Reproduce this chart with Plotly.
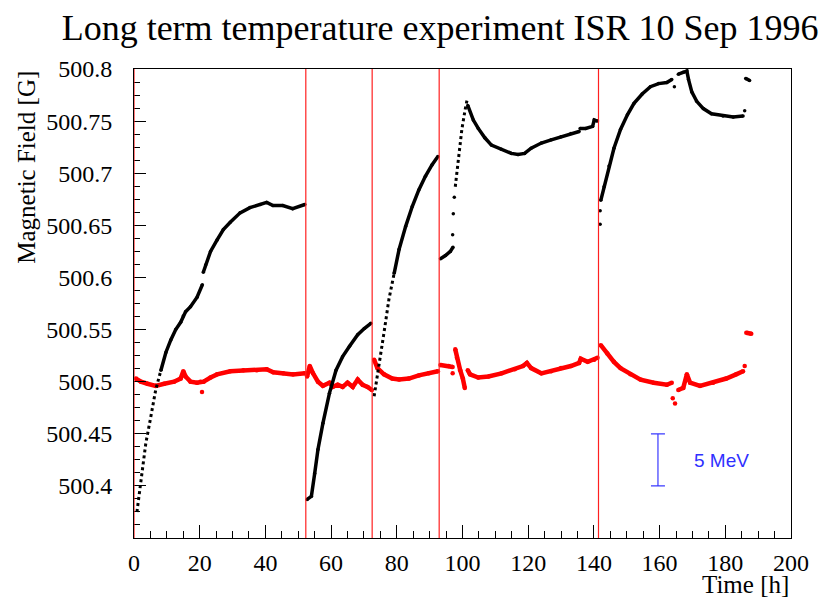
import plotly.graph_objects as go

# ---- ISR long-term temperature run, 10 Sep 1996 ----
# Each run is stored separately; runs are joined with None so the
# traces break between them.

# Magnetic field (black) per run: time [h], field [G]
b_run1_rise_t = [0.9, 2.1, 3.6, 5.1, 6.6]
b_run1_rise_v = [500.375, 500.403, 500.441, 500.466, 500.492]
b_run1_t = [8.2, 9.7, 11.2, 12.7, 14.2, 15.0, 15.7, 17.2, 19.2, 20.8]
b_run1_v = [500.511, 500.528, 500.540, 500.550, 500.557, 500.563, 500.567, 500.572, 500.581,
            500.593]
b_run1b_t = [21.1, 21.8, 23.3, 25.3, 27.2, 29.3, 32.3, 35.3, 38.4, 40.4, 42.3, 45.3, 48.3, 52.0]
b_run1b_v = [500.605, 500.612, 500.625, 500.636, 500.646, 500.653, 500.662, 500.667, 500.670,
             500.672, 500.669, 500.669, 500.666, 500.670]
b_run2_t = [52.7, 54.0, 55.0, 56.0, 57.5, 59.5, 61.5, 63.5, 65.6, 68.1, 70.1, 72.1]
b_run2_v = [500.387, 500.390, 500.412, 500.435, 500.460, 500.489, 500.511, 500.524, 500.534,
            500.545, 500.551, 500.556]
b_run3_rise_t = [73.1, 74.6, 76.1, 77.6]
b_run3_rise_v = [500.486, 500.515, 500.547, 500.579]
b_run3_t = [79.2, 80.7, 82.7, 84.7, 86.7, 88.7, 90.7, 92.5]
b_run3_v = [500.604, 500.627, 500.649, 500.668, 500.684, 500.697, 500.708, 500.716]
b_run4a_t = [93.3, 94.8, 96.3, 97.1]
b_run4a_v = [500.618, 500.621, 500.625, 500.629]
b_run4_rise_t = [97.8, 98.8, 99.8, 100.8, 101.5]
b_run4_rise_v = [500.687, 500.716, 500.742, 500.761, 500.772]
b_run4c_t = [101.6, 103.3, 104.8, 106.8, 108.8, 111.8, 114.9, 116.9, 118.9, 120.9, 124.0,
             127.0, 130.0, 133.0, 135.5]
b_run4c_v = [500.765, 500.751, 500.743, 500.734, 500.727, 500.723, 500.719, 500.718, 500.719,
             500.724, 500.729, 500.732, 500.735, 500.738, 500.740]
b_run4d_t = [135.8, 137.5, 139.6, 140.1, 141.1]
b_run4d_v = [500.743, 500.743, 500.745, 500.751, 500.750]
b_run5a_t = [142.1, 143.1, 144.6, 146.1, 148.1, 150.2, 152.2, 154.7, 157.2, 159.7, 162.2, 163.7]
b_run5a_v = [500.674, 500.687, 500.707, 500.724, 500.742, 500.756, 500.767, 500.776, 500.783,
             500.786, 500.787, 500.790]
b_run5b_t = [165.7, 167.2, 168.3, 168.8, 169.8, 171.3, 173.3, 175.8, 179.3, 182.4, 185.4]
b_run5b_v = [500.795, 500.797, 500.798, 500.790, 500.778, 500.769, 500.762, 500.757, 500.755,
             500.754, 500.755]
b_run5c_t = [186.2, 187.4]
b_run5c_v = [500.791, 500.789]
# single readings
b_single_t = [97.0, 97.2, 97.5, 141.9, 141.9, 164.5, 185.9]
b_single_v = [500.641, 500.661, 500.677, 500.651, 500.664, 500.783, 500.760]

# Reference probe (red) per run
r_run1_t = [0.6, 2.1, 4.1, 6.6, 9.2, 12.2, 14.2, 15.0, 15.7, 17.2, 19.2, 20.2, 21.2, 23.3, 25.3,
            29.3, 33.3, 37.4, 40.4, 42.4, 45.4, 48.4, 52.0]
r_run1_v = [500.503, 500.500, 500.498, 500.496, 500.498, 500.500, 500.503, 500.510, 500.505,
            500.500, 500.499, 500.500, 500.500, 500.504, 500.507, 500.510, 500.511, 500.511,
            500.512, 500.509, 500.508, 500.507, 500.508]
r_run2_t = [52.7, 53.5, 54.5, 56.0, 57.5, 59.5, 60.5, 62.0, 63.5, 65.0, 66.6, 68.1, 69.6, 71.1, 72.4]
r_run2_v = [500.505, 500.515, 500.508, 500.500, 500.496, 500.499, 500.495, 500.497, 500.495,
            500.499, 500.495, 500.502, 500.497, 500.495, 500.492]
r_run3_t = [73.1, 74.1, 76.1, 78.6, 80.7, 83.7, 86.7, 89.7, 92.5]
r_run3_v = [500.521, 500.513, 500.507, 500.503, 500.502, 500.503, 500.506, 500.508, 500.510]
r_run4a_t = [93.3, 95.8, 97.0]
r_run4a_v = [500.516, 500.515, 500.514]
r_run4b_t = [97.8, 98.3, 99.3, 100.1, 100.7]
r_run4b_v = [500.531, 500.523, 500.511, 500.503, 500.494]
r_run4c_t = [101.6, 102.3, 104.8, 107.9, 111.9, 115.9, 118.4, 119.6, 120.9, 124.0, 127.0, 130.0,
             133.0, 135.5, 136.0, 138.1, 140.1, 141.1]
r_run4c_v = [500.511, 500.507, 500.504, 500.505, 500.508, 500.512, 500.515, 500.518, 500.513,
             500.508, 500.510, 500.513, 500.515, 500.518, 500.522, 500.519, 500.521, 500.523]
r_run5a_t = [142.1, 144.1, 146.1, 148.1, 151.1, 154.2, 158.2, 162.2, 163.7]
r_run5a_v = [500.535, 500.527, 500.519, 500.513, 500.507, 500.502, 500.499, 500.497, 500.499]
r_run5b_t = [165.7, 167.2, 168.3, 169.3, 172.3, 176.3, 180.3, 183.3, 185.4]
r_run5b_v = [500.492, 500.494, 500.507, 500.499, 500.496, 500.499, 500.503, 500.507, 500.510]
r_run5c_t = [186.4, 187.9]
r_run5c_v = [500.547, 500.546]
r_single_t = [20.7, 97.0, 164.0, 164.7, 185.9]
r_single_v = [500.490, 500.508, 500.484, 500.479, 500.515]

# start times of the runs (magnet restarts)
run_starts = [0, 52.3, 72.5, 92.9, 141.4]

# energy scale bar: 5 MeV
scale_t = [159.5]
scale_centre = [500.425]
scale_half = [0.025]

x_ticks = [0, 20, 40, 60, 80, 100, 120, 140, 160, 180, 200]
y_ticks = [500.4, 500.45, 500.5, 500.55, 500.6, 500.65, 500.7, 500.75, 500.8]
y_tick_text = ["500.4", "500.45", "500.5", "500.55", "500.6", "500.65", "500.7", "500.75", "500.8"]


def join(pairs):
    xs, ys = [], []
    for t, v in pairs:
        if xs:
            xs.append(None)
            ys.append(None)
        xs.extend(t)
        ys.extend(v)
    return xs, ys


black_t, black_v = join([
    (b_run1_t, b_run1_v), (b_run1b_t, b_run1b_v), (b_run2_t, b_run2_v), (b_run3_t, b_run3_v),
    (b_run4a_t, b_run4a_v), (b_run4c_t, b_run4c_v),
    (b_run4d_t, b_run4d_v), (b_run5a_t, b_run5a_v), (b_run5b_t, b_run5b_v),
    (b_run5c_t, b_run5c_v),
])
red_t, red_v = join([
    (r_run1_t, r_run1_v), (r_run2_t, r_run2_v), (r_run3_t, r_run3_v), (r_run4a_t, r_run4a_v),
    (r_run4b_t, r_run4b_v), (r_run4c_t, r_run4c_v), (r_run5a_t, r_run5a_v),
    (r_run5b_t, r_run5b_v), (r_run5c_t, r_run5c_v),
])

# fast-rising stretches are sparsely sampled: each is drawn dotted and
# joined to the first reading of the stretch that follows it
rises = [
    (b_run1_rise_t + b_run1_t[:1], b_run1_rise_v + b_run1_v[:1]),
    (b_run3_rise_t + b_run3_t[:1], b_run3_rise_v + b_run3_v[:1]),
    (b_run4_rise_t, b_run4_rise_v),
]

SERIF = "Liberation Serif, Times New Roman, serif"

fig = go.Figure()

fig.add_trace(go.Scatter(
    x=red_t, y=red_v, mode="lines+markers",
    line=dict(color="#ff0000", width=4.5),
    marker=dict(color="#ff0000", size=4.5),
    showlegend=False, hoverinfo="skip"))
fig.add_trace(go.Scatter(
    x=r_single_t, y=r_single_v, mode="markers",
    marker=dict(color="#ff0000", size=4.5),
    showlegend=False, hoverinfo="skip"))
fig.add_trace(go.Scatter(
    x=black_t, y=black_v, mode="lines+markers",
    line=dict(color="black", width=3.5),
    marker=dict(color="black", size=3.5),
    showlegend=False, hoverinfo="skip"))
for rt, rv in rises:
    fig.add_trace(go.Scatter(
        x=rt, y=rv, mode="lines",
        line=dict(color="black", width=3, dash="dot"),
        showlegend=False, hoverinfo="skip"))
fig.add_trace(go.Scatter(
    x=b_single_t, y=b_single_v, mode="markers",
    marker=dict(color="black", size=3.5),
    showlegend=False, hoverinfo="skip"))

# 5 MeV scale bar
fig.add_trace(go.Scatter(
    x=scale_t, y=scale_centre, mode="markers",
    marker=dict(size=1, color="rgba(0,0,0,0)"),
    error_y=dict(type="data", array=scale_half, symmetric=True,
                 color="#3a3aff", thickness=1.2, width=7),
    showlegend=False, hoverinfo="skip"))

for t0 in run_starts:
    fig.add_shape(type="line", xref="x", yref="paper", x0=t0, x1=t0, y0=0, y1=1,
                  line=dict(color="#ff2020", width=1.2), layer="above")

fig.add_annotation(x=170.0, y=500.424, xref="x", yref="y", text="5 MeV",
                   showarrow=False, xanchor="left", yanchor="middle",
                   font=dict(family="Liberation Sans, Arial, sans-serif", size=19, color="#3030ff"))

fig.add_annotation(x=-0.164, y=0.790, xref="paper", yref="paper", text="Magnetic Field [G]",
                   showarrow=False, textangle=-90, xanchor="center", yanchor="middle",
                   font=dict(family=SERIF, size=25, color="black"))
fig.add_annotation(x=1.0, y=-0.1, xref="paper", yref="paper", text="Time [h]",
                   showarrow=False, xanchor="right", yanchor="middle",
                   font=dict(family=SERIF, size=25, color="black"))

fig.update_layout(
    width=821, height=599,
    margin=dict(l=134, r=27, t=69, b=61),
    paper_bgcolor="white", plot_bgcolor="white",
    title=dict(text="Long term temperature experiment ISR 10 Sep 1996",
               x=0.536, xanchor="center", y=0.954, yanchor="middle",
               font=dict(family=SERIF, size=36, color="black")),
    xaxis=dict(range=[0, 200], tickvals=x_ticks, ticks="inside", ticklen=13, tickwidth=1,
               tickcolor="black", showgrid=False, zeroline=False,
               showline=True, linecolor="black", linewidth=1, mirror=True,
               tickfont=dict(family=SERIF, size=24, color="black"),
               ticklabelstandoff=3,
               minor=dict(dtick=5, ticks="inside", ticklen=7, tickcolor="black", showgrid=False)),
    yaxis=dict(range=[500.35, 500.8], tickvals=y_ticks, ticktext=y_tick_text,
               ticks="inside", ticklen=12, tickwidth=1, tickcolor="black",
               showgrid=False, zeroline=False,
               showline=True, linecolor="black", linewidth=1, mirror=True,
               tickfont=dict(family=SERIF, size=24, color="black"),
               ticklabelstandoff=16,
               minor=dict(dtick=0.0125, tick0=500.35, ticks="inside", ticklen=6,
                          tickcolor="black", showgrid=False)),
)

fig.write_html("out.html")
